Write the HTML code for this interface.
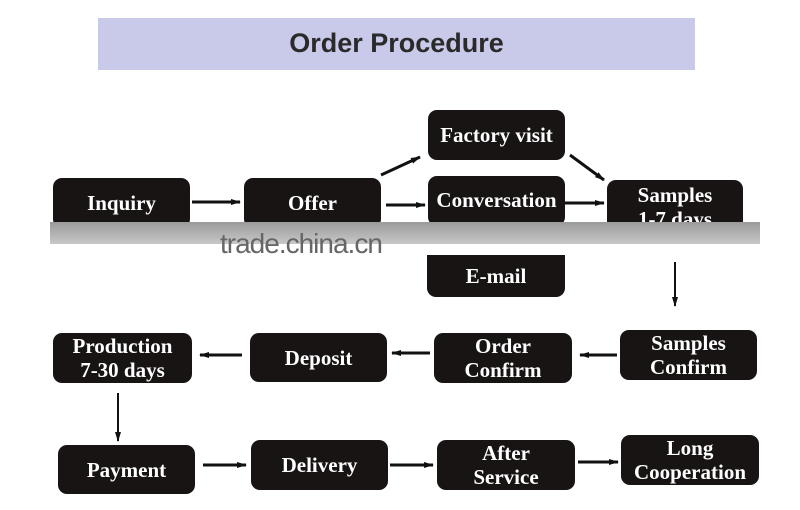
<!DOCTYPE html>
<html><head><style>
body{margin:0;width:800px;height:510px;background:#fff;position:relative;overflow:hidden}
.t{position:absolute;left:98px;top:18px;width:597px;height:52px;background:#c9c9e9;font:bold 27px "Liberation Sans",sans-serif;color:#2a2a2a;text-align:center;line-height:50px}
.b{position:absolute;background:#181414;border-radius:9px;color:#fff;font:bold 21px/24px "Liberation Serif",serif;display:flex;align-items:center;justify-content:center;text-align:center;white-space:nowrap}
svg{position:absolute;left:0;top:0}
.band{position:absolute;left:50px;top:222px;width:710px;height:22px;background:linear-gradient(#9a9a9a,#c8c8c8)}
.wm{position:absolute;left:220px;top:228px;font:28px "Liberation Sans",sans-serif;color:#666;letter-spacing:-1px}
</style></head><body>
<div class="t">Order Procedure</div>
<div class="b" style="left:428px;top:110px;width:137px;height:50px">Factory visit</div>
<div class="b" style="left:53px;top:178px;width:137px;height:50px">Inquiry</div>
<div class="b" style="left:244px;top:178px;width:137px;height:50px">Offer</div>
<div class="b" style="left:428px;top:176px;width:137px;height:50px;align-items:flex-start;padding-top:12px;box-sizing:border-box">Conversation</div>
<div class="b" style="left:607px;top:180px;width:136px;height:50px;align-items:flex-start;padding-top:3px;box-sizing:border-box">Samples<br>1-7 days</div>
<div class="band"></div>
<div class="wm">trade.china.cn</div>
<div class="b" style="left:427px;top:255px;width:138px;height:42px;border-radius:0 0 9px 9px">E-mail</div>
<div class="b" style="left:53px;top:333px;width:139px;height:50px">Production<br>7-30 days</div>
<div class="b" style="left:250px;top:333px;width:137px;height:49px">Deposit</div>
<div class="b" style="left:434px;top:333px;width:138px;height:50px">Order<br>Confirm</div>
<div class="b" style="left:620px;top:330px;width:137px;height:50px">Samples<br>Confirm</div>
<div class="b" style="left:58px;top:445px;width:137px;height:49px">Payment</div>
<div class="b" style="left:251px;top:440px;width:137px;height:50px">Delivery</div>
<div class="b" style="left:437px;top:440px;width:138px;height:50px">After<br>Service</div>
<div class="b" style="left:621px;top:435px;width:138px;height:50px">Long<br>Cooperation</div>
<svg width="800" height="510">
<defs><marker id="a" markerWidth="10" markerHeight="8" refX="9" refY="4" orient="auto" markerUnits="userSpaceOnUse"><path d="M0,1 L10,4 L0,7 z" fill="#111"/></marker></defs>
<g stroke="#111" stroke-width="3" marker-end="url(#a)">
<line x1="192" y1="202" x2="240" y2="202"/>
<line x1="386" y1="205" x2="425" y2="205"/>
<line x1="381" y1="175" x2="420" y2="157"/>
<line x1="570" y1="155" x2="604" y2="180"/>
<line x1="565" y1="203" x2="604" y2="203"/>
<line x1="675" y1="262" x2="675" y2="306" stroke-width="2"/>
<line x1="617" y1="355" x2="580" y2="355"/>
<line x1="430" y1="353" x2="392" y2="353"/>
<line x1="242" y1="355" x2="200" y2="355"/>
<line x1="118" y1="393" x2="118" y2="441" stroke-width="2"/>
<line x1="203" y1="465" x2="246" y2="465"/>
<line x1="390" y1="465" x2="433" y2="465"/>
<line x1="578" y1="462" x2="618" y2="462"/>
</g></svg>
</body></html>
